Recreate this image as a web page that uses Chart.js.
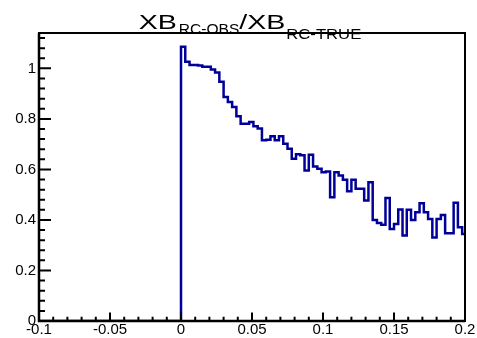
<!DOCTYPE html>
<html>
<head>
<meta charset="utf-8">
<script src="https://cdn.jsdelivr.net/npm/chart.js@4.4.0/dist/chart.umd.min.js"></script>
<style>
  html, body { margin: 0; padding: 0; background: #fff; }
  #wrap { width: 477px; height: 338px; }
</style>
</head>
<body>
<div id="wrap"><canvas id="histChart" width="477" height="338"></canvas></div>
<script>
// histogram bins: left edge of first bin, width of each bin, and content
const binStart = 0;
const binWidth = 0.003;
const ratioValues = [
  1.086, 1.026, 1.013, 1.013, 1.011, 1.006, 1.006, 0.996, 0.984, 0.947,
  0.887, 0.867, 0.847, 0.810, 0.781, 0.781, 0.788, 0.771, 0.762, 0.715,
  0.717, 0.731, 0.715, 0.731, 0.702, 0.682, 0.642, 0.660, 0.656, 0.596,
  0.658, 0.612, 0.603, 0.589, 0.592, 0.490, 0.589, 0.576, 0.559, 0.514,
  0.559, 0.523, 0.523, 0.477, 0.549, 0.400, 0.388, 0.381, 0.487, 0.364,
  0.384, 0.441, 0.338, 0.440, 0.400, 0.430, 0.466, 0.430, 0.404, 0.331,
  0.404, 0.420, 0.347, 0.347, 0.468, 0.371, 0.344
];

const xTicks = [-0.1, -0.05, 0, 0.05, 0.1, 0.15, 0.2];
const xTickLabels = ['-0.1', '-0.05', '0', '0.05', '0.1', '0.15', '0.2'];
const yTicks = [0, 0.2, 0.4, 0.6, 0.8, 1];
const yTickLabels = ['0', '0.2', '0.4', '0.6', '0.8', '1'];
const xMin = -0.1, xMax = 0.2;
const yMin = 0, yMax = 1.14;

// step points: bin i ends where bin i+1 starts, value taken from the next point
const points = [{ x: xMin, y: 0 }, { x: binStart, y: 0 }];
ratioValues.forEach((v, i) => {
  points.push({ x: binStart + i * binWidth, y: v });
});
points.push({ x: xMax, y: ratioValues[ratioValues.length - 1] });

const labelFont = { family: 'Liberation Sans', size: 15 };

// frame + ROOT-style inner ticks
const framePlugin = {
  id: 'frame',
  afterDraw(chart) {
    const c = chart.ctx;
    const a = chart.chartArea;
    const xs = chart.scales.x, ys = chart.scales.y;
    c.save();
    c.strokeStyle = '#000';
    c.lineWidth = 2;
    c.strokeRect(a.left, a.top, a.right - a.left, a.bottom - a.top);
    c.lineWidth = 2.5;
    c.beginPath();
    c.moveTo(a.left, a.top); c.lineTo(a.left, a.bottom); c.lineTo(a.right, a.bottom);
    c.stroke();

    c.lineWidth = 2;
    c.beginPath();
    for (let i = 0; i <= 30; i++) {
      const px = xs.getPixelForValue(xMin + i * 0.01);
      const len = i % 5 === 0 ? 8.6 : 4.3;
      c.moveTo(px, a.bottom);
      c.lineTo(px, a.bottom - len);
    }
    for (let i = 0; i <= 28; i++) {
      const py = ys.getPixelForValue(i * 0.04);
      const len = i % 5 === 0 ? 12 : 6;
      c.moveTo(a.left, py);
      c.lineTo(a.left + len, py);
    }
    c.stroke();
    c.restore();
  }
};

// title with subscripts: XB_{RC-OBS}/XB_{RC-TRUE}
const titlePlugin = {
  id: 'rootTitle',
  afterDraw(chart) {
    const c = chart.ctx;
    const parts = [
      { t: 'XB', size: 21, sx: 1.36, dy: 0, gap: 2 },
      { t: 'RC-OBS', size: 14, sx: 1.11, dy: 5, gap: 0 },
      { t: '/XB', size: 21, sx: 1.36, dy: 0, gap: 1 },
      { t: 'RC-TRUE', size: 14, sx: 1.19, dy: 10, gap: 0 }
    ];
    c.save();
    c.fillStyle = '#000';
    c.textBaseline = 'alphabetic';
    let total = 0;
    parts.forEach(p => {
      c.font = p.size + 'px "Liberation Sans"';
      p.w = c.measureText(p.t).width * p.sx;
      total += p.w + p.gap;
    });
    let x = 250 - total / 2;
    const base = 28.5;
    parts.forEach(p => {
      c.font = p.size + 'px "Liberation Sans"';
      c.save();
      c.translate(x, base + p.dy);
      c.scale(p.sx, 1);
      c.fillText(p.t, 0, 0);
      c.restore();
      x += p.w + p.gap;
    });
    c.restore();
  }
};

const ctx = document.getElementById('histChart').getContext('2d');
new Chart(ctx, {
  type: 'line',
  data: {
    datasets: [{
      data: points,
      stepped: 'before',
      borderColor: '#000099',
      borderWidth: 2.5,
      pointRadius: 0,
      fill: false
    }]
  },
  options: {
    responsive: false,
    animation: false,
    devicePixelRatio: 1,
    layout: { padding: { top: 33, right: 12, left: 0, bottom: 0 } },
    plugins: {
      legend: { display: false },
      tooltip: { enabled: false },
      title: { display: false }
    },
    scales: {
      x: {
        type: 'linear',
        min: xMin,
        max: xMax,
        grid: { display: false, drawTicks: false },
        border: { display: false },
        afterBuildTicks: s => { s.ticks = xTicks.map(v => ({ value: v })); },
        afterFit: s => { s.height = 17; },
        ticks: {
          autoSkip: false,
          maxRotation: 0,
          padding: 0,
          color: '#000',
          font: labelFont,
          callback: (v, i) => xTickLabels[i]
        }
      },
      y: {
        min: yMin,
        max: yMax,
        grid: { display: false, drawTicks: false },
        border: { display: false },
        afterBuildTicks: s => { s.ticks = yTicks.map(v => ({ value: v })); },
        afterFit: s => { s.width = 39; },
        ticks: {
          padding: 3,
          color: '#000',
          font: labelFont,
          callback: (v, i) => yTickLabels[i]
        }
      }
    }
  },
  plugins: [framePlugin, titlePlugin]
});
</script>
</body>
</html>
